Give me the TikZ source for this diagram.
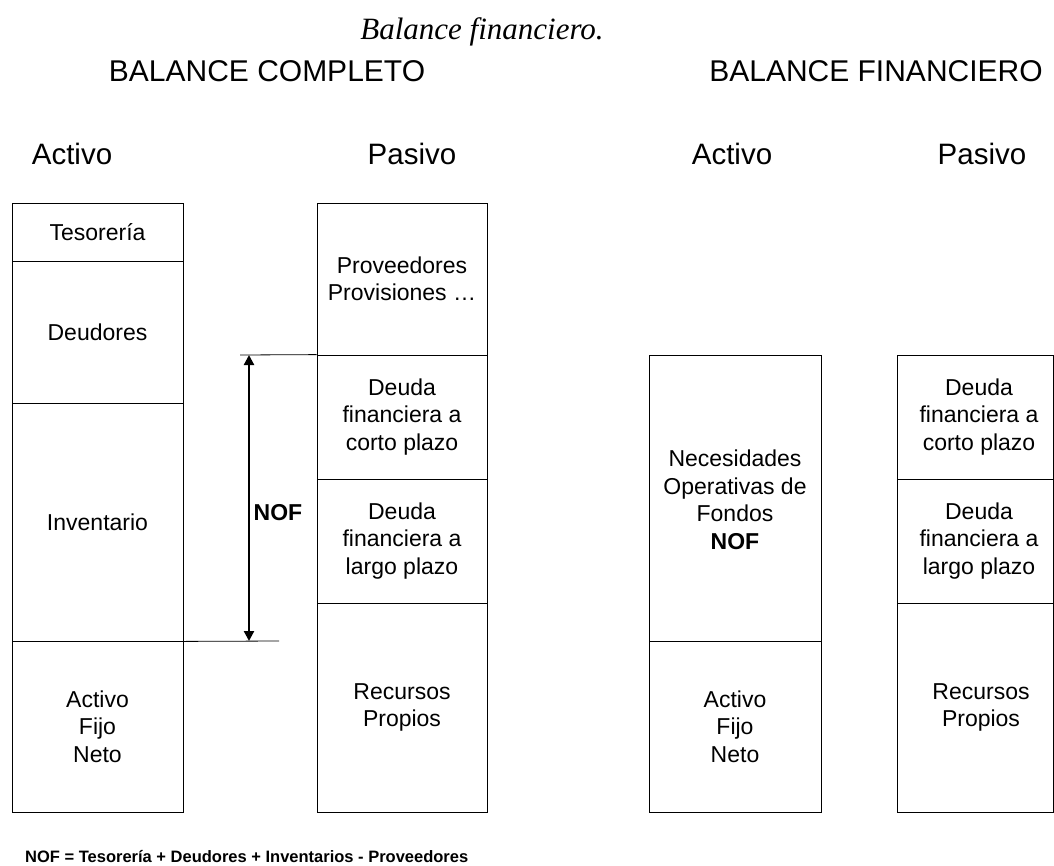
\documentclass[tikz,border=0pt]{standalone}
\usepackage{fontspec}
\setmainfont{Liberation Sans}
\newfontfamily\titlefont{Liberation Serif}
\usetikzlibrary{arrows.meta}
\begin{document}
\begin{tikzpicture}[x=1pt,y=-1pt,
  cell/.style={draw, line width=0.8pt, inner sep=0pt, align=center,
    font=\fontsize{23}{27.5}\selectfont},
  celltext/.style={inner sep=0pt, align=center, font=\fontsize{23}{27.5}\selectfont},
  head/.style={inner sep=0pt, anchor=base, font=\fontsize{30}{36}\selectfont},
  sub/.style={inner sep=0pt, anchor=base, font=\fontsize{29.5}{35}\selectfont},
  thin/.style={line width=0.8pt},
  nofarrow/.style={line width=2.2pt, {Triangle[width=10pt,length=10pt]}-{Triangle[width=10pt,length=10pt]}}]
\useasboundingbox (0,0) rectangle (1054,865);
% titles
\node[inner sep=0pt, anchor=base, font=\titlefont\itshape\fontsize{31}{36}\selectfont] (title) at (482,39) {Balance financiero.};
\node[head] (hc) at (267,81) {BALANCE COMPLETO};
\node[head] (hf) at (876,81) {BALANCE FINANCIERO};
\node[sub] (a1) at (72,164) {Activo};
\node[sub] (p1) at (412,164) {Pasivo};
\node[sub] (a2) at (732,164) {Activo};
\node[sub] (p2) at (982,164) {Pasivo};
% box 1
\node[cell, minimum width=171pt, minimum height=58pt] (teso) at (97.5,232) {Tesorería};
\node[cell, minimum width=171pt, minimum height=142pt] (deud) at (97.5,332) {Deudores};
\node[cell, minimum width=171pt, minimum height=238pt] (inv) at (97.5,522) {Inventario};
\node[cell, minimum width=171pt, minimum height=171pt] (afn1) at (97.5,726.5) {Activo\\Fijo\\Neto};
% box 2
\node[cell, minimum width=170pt, minimum height=152pt] (prov) at (402,279) {Proveedores\\Provisiones …};
\node[cell, minimum width=170pt, minimum height=124pt] (dcp1) at (402,417) {Deuda\\financiera a\\corto plazo};
\node[cell, minimum width=170pt, minimum height=124pt] (dlp1) at (402,541) {Deuda\\financiera a\\largo plazo};
\node[cell, minimum width=170pt, minimum height=209pt] (rp1) at (402,707.5) {Recursos\\Propios};
% box 3
\node[cell, minimum width=172pt, minimum height=286pt] (nof) at (735,498) {};
\node[celltext] (noft) at (735,500) {Necesidades\\Operativas de\\Fondos\\\textbf{NOF}};
\node[cell, minimum width=172pt, minimum height=171pt] (afn2) at (735,726.5) {Activo\\Fijo\\Neto};
% box 4 (cut by the right edge)
\node[cell, minimum width=156pt, minimum height=124pt] (dcp2) at (975,417) {};
\node[cell, minimum width=156pt, minimum height=124pt] (dlp2) at (975,541) {};
\node[cell, minimum width=156pt, minimum height=209pt] (rp2) at (975,707.5) {};
\node[celltext] (dcp2t) at (979,417) {Deuda\\financiera a\\corto plazo};
\node[celltext] (dlp2t) at (979,541) {Deuda\\financiera a\\largo plazo};
\node[celltext] (rp2t) at (981,707.5) {Recursos\\Propios};
% NOF measure
\coordinate (tl) at (240,355);
\coordinate (br) at (279,641);
\coordinate (at) at (249,355);
\coordinate (ab) at (249,641);
\draw[thin] (tl) -- (dcp1.north west);
\draw[thin] (inv.south east) -- (br);
\draw[nofarrow] (at) -- (ab);
\node[inner sep=0pt, font=\bfseries\fontsize{23}{27.5}\selectfont] (noflab) at (278,513) {NOF};
% formula
\node[inner sep=0pt, anchor=base west, font=\bfseries\fontsize{16.5}{20}\selectfont] (formula) at (25,862) {NOF = Tesorería + Deudores + Inventarios - Proveedores};
\end{tikzpicture}
\end{document}
